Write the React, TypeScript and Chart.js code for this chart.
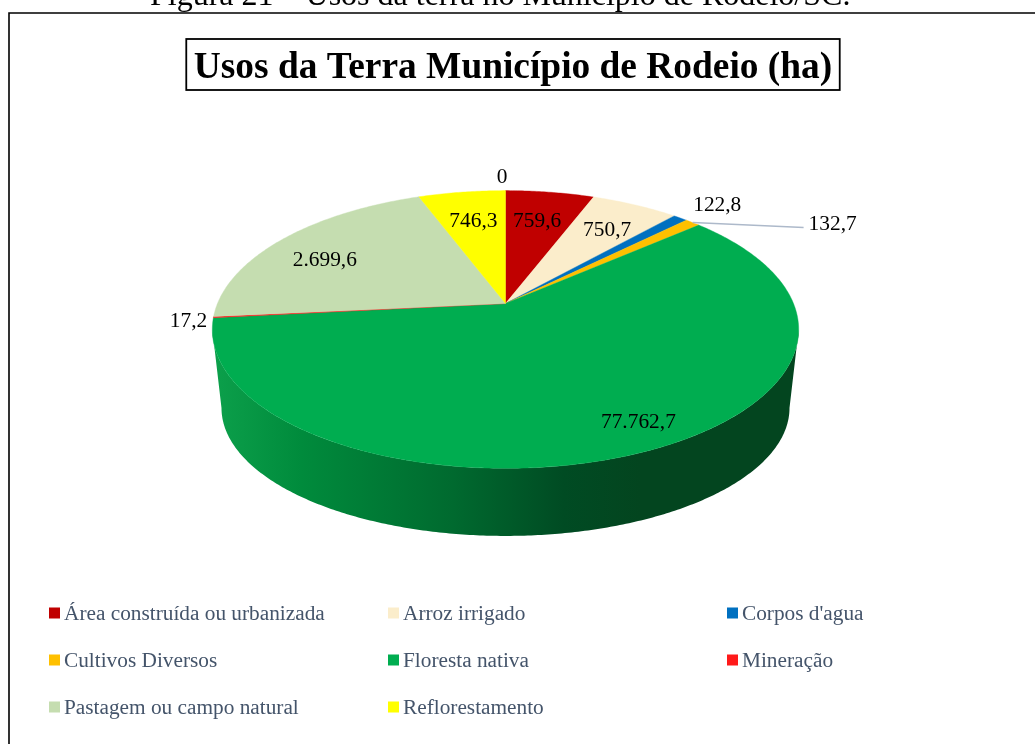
import React, { useEffect, useRef } from "react";
import { Chart, registerables } from "chart.js";

Chart.register(...registerables);

const categories = [
  "Área construída ou urbanizada",
  "Arroz irrigado",
  "Corpos d'agua",
  "Cultivos Diversos",
  "Floresta nativa",
  "Mineração",
  "Pastagem ou campo natural",
  "Reflorestamento",
  "",
];
// Slice sizes as drawn (the printed forest label differs from the drawn share).
const sliceValues = [759.6, 750.7, 122.8, 132.7, 7762.7, 17.2, 2699.6, 746.3, 0];
const valueLabels = ["759,6", "750,7", "122,8", "132,7", "77.762,7", "17,2", "2.699,6", "746,3", "0"];
const sliceColors = ["#C00000", "#FBEDCB", "#0070C0", "#FFC000", "#00AD50", "#FF1A1A", "#C5DDB0", "#FFFF00", "#FFFFFF"];

const caption = "Figura 21 – Usos da terra no Município de Rodeio/SC.";
const chartTitle = "Usos da Terra Município de Rodeio (ha)";

const FONT = "'Liberation Serif'";
const TOP = { x: 505.5, y: 303.5, rx: 288, ry: 134, p: 0.187 };
const BOTTOM = { x: 505.5, y: 384, rx: 279, ry: 123.5, p: 0.187 };
const labelPlacement = [
  { f: 0.75, dx: -3, dy: 5 },
  { f: 0.75, dx: 1, dy: 3 },
  { f: 1, dx: 37, dy: -13 },
  { f: 1, dx: 140, dy: 2 },
  { f: 0.75, dx: 34, dy: 13 },
  { f: 1, dx: -25, dy: 4 },
  { f: 0.75, dx: -10, dy: 6 },
  { f: 0.75, dx: 2, dy: 5 },
  { f: 1, dx: -3.5, dy: -13 },
];
const LEADER_INDEX = 3;
const LEADER_END_DX = 111;
const LEADER_END_DY = 5;
const legendCols = [
  { box: 49, text: 64 },
  { box: 388, text: 403 },
  { box: 727, text: 742 },
];
const legendRows = [613, 660, 707];

type Plane = typeof TOP;
const project = (pl: Plane, a: number, f = 1) => {
  const u = Math.cos(a) * f;
  const v = Math.sin(a) * f;
  const w = 1 - pl.p * v;
  return { x: pl.x + (pl.rx * u) / w, y: pl.y + (pl.ry * v) / w };
};

const arcPoints = (pl: Plane, a0: number, a1: number) => {
  const n = Math.max(2, Math.ceil(Math.abs(a1 - a0) / 0.01));
  const pts = [];
  for (let i = 0; i <= n; i++) pts.push(project(pl, a0 + ((a1 - a0) * i) / n));
  return pts;
};

const pie3d = {
  id: "pie3d",
  beforeDraw(chart: any) {
    const c = chart.ctx;
    c.save();
    c.fillStyle = "#FFFFFF";
    c.fillRect(0, 0, chart.width, chart.height);
    c.strokeStyle = "#000000";
    c.lineWidth = 1.6;
    c.beginPath();
    c.moveTo(9, 744);
    c.lineTo(9, 13);
    c.lineTo(1035, 13);
    c.stroke();
    c.fillStyle = "#000000";
    c.font = `32px ${FONT}`;
    c.textAlign = "left";
    c.textBaseline = "alphabetic";
    c.fillText(caption, 150, 5);
    c.restore();
  },
  beforeDatasetDraw(chart: any) {
    const c = chart.ctx;
    const arcs = chart.getDatasetMeta(0).data;
    c.save();
    // Side wall: visible part of each slice's rim
    const wallA0 = Math.asin(TOP.p);
    const wallA1 = Math.PI - wallA0;
    const grad = c.createLinearGradient(213, 0, 798, 0);
    [
      [0, "#0CA04B"],
      [0.15, "#008B3C"],
      [0.41, "#006A2F"],
      [0.6, "#004B23"],
      [0.73, "#03451F"],
      [1, "#03451F"],
    ].forEach(([o, col]) => grad.addColorStop(o as number, col as string));
    arcs.forEach((el: any) => {
      const a0 = Math.max(el.startAngle, wallA0);
      const a1 = Math.min(el.endAngle, wallA1);
      if (a1 <= a0) return;
      c.beginPath();
      arcPoints(TOP, a0, a1).forEach((p: any, i: number) => (i ? c.lineTo(p.x, p.y) : c.moveTo(p.x, p.y)));
      arcPoints(BOTTOM, a1, a0).forEach((p: any) => c.lineTo(p.x, p.y));
      c.closePath();
      c.fillStyle = grad;
      c.fill();
    });
    // Top face
    arcs.forEach((el: any) => {
      if (el.endAngle - el.startAngle <= 0) return;
      c.beginPath();
      c.moveTo(TOP.x, TOP.y);
      arcPoints(TOP, el.startAngle, el.endAngle).forEach((p: any) => c.lineTo(p.x, p.y));
      c.closePath();
      c.fillStyle = el.options.backgroundColor;
      c.strokeStyle = el.options.backgroundColor;
      c.lineWidth = 0.4;
      c.fill();
      c.stroke();
    });
    c.restore();
    return false;
  },
  afterDraw(chart: any) {
    const c = chart.ctx;
    const arcs = chart.getDatasetMeta(0).data;
    c.save();
    // Leader line
    const le = arcs[LEADER_INDEX];
    const lp = project(TOP, (le.startAngle + le.endAngle) / 2);
    c.strokeStyle = "#ADB9CA";
    c.lineWidth = 1.5;
    c.beginPath();
    c.moveTo(lp.x, lp.y);
    c.lineTo(lp.x + LEADER_END_DX, lp.y + LEADER_END_DY);
    c.stroke();
    // Value labels
    c.fillStyle = "#000000";
    c.font = `21.4px ${FONT}`;
    c.textAlign = "center";
    c.textBaseline = "middle";
    arcs.forEach((el: any, i: number) => {
      const pl = labelPlacement[i];
      const p = project(TOP, (el.startAngle + el.endAngle) / 2, pl.f);
      c.fillText(valueLabels[i], p.x + pl.dx, p.y + pl.dy);
    });
    // Title box
    const tb = chart.titleBlock;
    c.font = `bold 37.4px ${FONT}`;
    const w = c.measureText(chartTitle).width;
    const cx = (tb.left + tb.right) / 2;
    c.strokeStyle = "#000000";
    c.lineWidth = 1.8;
    c.strokeRect(cx - w / 2 - 7.5, 39, w + 15, 51);
    // Legend
    c.font = `21.3px ${FONT}`;
    c.textAlign = "left";
    c.textBaseline = "middle";
    categories.forEach((name, i) => {
      if (!name) return;
      const col = legendCols[i % legendCols.length];
      const y = legendRows[Math.floor(i / legendCols.length)];
      c.fillStyle = sliceColors[i];
      c.fillRect(col.box, y - 5.5, 11, 11);
      c.fillStyle = "#44546A";
      c.fillText(name, col.text, y + 1);
    });
    c.restore();
  },
};

export default function App() {
  const ref = useRef<HTMLCanvasElement>(null);
  useEffect(() => {
    const chart = new Chart(ref.current as HTMLCanvasElement, {
      type: "pie",
      data: {
        labels: categories,
        datasets: [{ data: sliceValues, backgroundColor: sliceColors, borderWidth: 0 }],
      },
      options: {
        responsive: false,
        animation: false,
        layout: { padding: { left: 0, right: 9, top: 0, bottom: 0 } },
        plugins: {
          legend: { display: false },
          tooltip: { enabled: false },
          title: {
            display: true,
            text: chartTitle,
            color: "#000000",
            font: { family: FONT, size: 37.4, weight: "bold" },
            padding: { top: 45.5, bottom: 0 },
          },
        },
      },
      plugins: [pie3d],
    } as any);
    return () => chart.destroy();
  }, []);
  return (
    <canvas
      ref={ref}
      width={1035}
      height={744}
      style={{ position: "absolute", left: 0, top: 0, width: 1035, height: 744 }}
    />
  );
}
